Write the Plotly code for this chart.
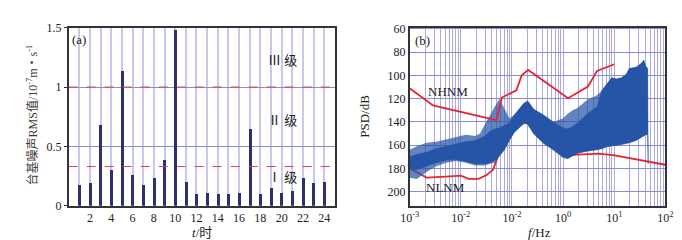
import plotly.graph_objects as go

# ---------------- data: panel (a) ----------------
hours = list(range(1, 25))
rms = [0.18, 0.19, 0.68, 0.30, 1.135, 0.26, 0.18, 0.24, 0.39, 1.48, 0.20, 0.105,
       0.11, 0.105, 0.105, 0.11, 0.65, 0.098, 0.15, 0.11, 0.13, 0.235, 0.19, 0.205]
level_limits = [1.0, 0.33]
level_labels = ["Ⅲ 级", "Ⅱ 级", "Ⅰ 级"]
level_label_y = [1.22, 0.72, 0.24]
a_xticks = list(range(2, 25, 2))

# ---------------- data: panel (b) ----------------
psd_f = [0.001, 0.00138, 0.00214, 0.00331, 0.00513, 0.00796, 0.0125, 0.0191, 0.0238,
         0.0297, 0.037, 0.046, 0.0573, 0.0713, 0.0889, 0.111, 0.138, 0.171, 0.204,
         0.266, 0.412, 0.64, 0.991, 1.23, 1.54, 1.91, 2.97, 4.6, 5.72, 7.13, 8.89,
         11.1, 13.8, 17.2, 19.6, 26.6, 33.1, 37.8, 41.2, 45.0, 46.0]
psd_upper = [164, 161, 158, 157, 155, 153, 151, 152, 150, 142, 134, 127, 120, 128,
             137, 134, 129, 124, 122, 129, 134, 140, 137, 133, 130, 128, 121, 117,
             113, 107, 102, 103, 102, 99, 94, 93, 90, 87, 92, 94, 176]
psd_lower = [188, 189, 183, 178, 175, 173.5, 175, 177.5, 177.5, 177.5, 176, 175,
             169.5, 164, 156, 149, 145, 141, 142.5, 150.5, 158.7, 164, 171, 172,
             169.5, 167, 165.4, 164, 163, 161.4, 160.5, 160, 159.5, 158.7, 158, 156,
             153.3, 152, 151, 150.6, 176]
core_upper = [170, 168, 166, 163, 161, 159, 157, 156, 154, 152, 148, 146, 145, 143,
              141, 134, 129, 124, 122, 129, 134, 140, 145, 146, 144, 141, 133, 127,
              113, 107, 102, 103, 102, 99, 94, 93, 90, 87, 92, 94, 176]
core_lower = [181, 181, 178, 175, 173, 172, 174, 176, 176, 176, 175, 173, 169, 164,
              156, 149, 145, 141, 142, 150, 158, 164, 170, 171, 169, 167, 165, 164,
              163, 161.4, 160.5, 160, 159.5, 158.7, 158, 156, 153.3, 152, 151, 150.6, 176]

nhnm_f = [0.001, 0.00286, 0.0495, 0.0634, 0.122, 0.155, 0.207, 1.25, 3.06, 4.6, 10.0]
nhnm_db = [111, 125.8, 138.5, 119, 112.8, 99.9, 95.3, 119.6, 109.6, 96.1, 90.4]

nlnm_f = [0.001, 0.00214, 0.00513, 0.00794, 0.01, 0.0143, 0.0221, 0.032, 0.0427,
          0.0495, 0.06, 0.1, 0.2, 0.3, 0.6, 1.0, 1.5, 1.92, 4.95, 10.2, 21.4, 44.5, 100]
nlnm_db = [179.8, 187.8, 187, 186.2, 186.2, 188.9, 188.9, 185.7, 181, 173.5, 163,
           148, 139, 146, 160, 166, 168.5, 168.1, 167.3, 168.7, 171.4, 174.1, 176.8]

b_xtickvals = [1e-3, 1e-2, 1e-1, 1e0, 1e1, 1e2]
b_xticktext = ["10<sup>-3</sup>", "10<sup>-2</sup>", "10<sup>-2</sup>",
               "10<sup>0</sup>", "10<sup>1</sup>", "10<sup>2</sup>"]
b_yticks = [60, 80, 100, 120, 140, 160, 180, 200]

# ---------------- styling ----------------
W, H = 682, 240
SERIF = "Liberation Serif, Times New Roman, Noto Sans CJK SC, serif"
TXT = "#222222"
BLUE = "rgb(38,84,166)"
RED = "#e8252d"

fig = go.Figure()

# panel (a)
fig.add_trace(go.Bar(x=hours, y=rms, width=0.28, marker=dict(color="#2c3070", line=dict(width=0)),
                     xaxis="x", yaxis="y", showlegend=False))
for lv in level_limits:
    fig.add_trace(go.Scatter(x=[0, 25], y=[lv, lv], mode="lines",
                             line=dict(color="#e0404a", width=1, dash="dash"),
                             xaxis="x", yaxis="y", showlegend=False))

# panel (b)
fig.add_trace(go.Scatter(x=nlnm_f, y=nlnm_db, mode="lines", line=dict(color=RED, width=1.8),
                         xaxis="x2", yaxis="y2", showlegend=False))
fig.add_trace(go.Scatter(x=psd_f + psd_f[::-1], y=psd_upper + psd_lower[::-1],
                         mode="lines", fill="toself", fillcolor="rgba(38,84,166,0.72)",
                         line=dict(width=0, color=BLUE), xaxis="x2", yaxis="y2", showlegend=False))
fig.add_trace(go.Scatter(x=psd_f + psd_f[::-1], y=core_upper + core_lower[::-1],
                         mode="lines", fill="toself", fillcolor=BLUE,
                         line=dict(width=0.5, color=BLUE), xaxis="x2", yaxis="y2", showlegend=False))
fig.add_trace(go.Scatter(x=nhnm_f, y=nhnm_db, mode="lines", line=dict(color=RED, width=1.8),
                         xaxis="x2", yaxis="y2", showlegend=False))

axis_common = dict(showline=True, mirror=True, linecolor="#333333", linewidth=1.5,
                   zeroline=False, tickfont=dict(family=SERIF, size=12, color=TXT))

fig.update_layout(
    width=W, height=H, margin=dict(l=0, r=0, t=0, b=0),
    paper_bgcolor="white", plot_bgcolor="white", bargap=0,
    xaxis=dict(domain=[53 / W, 326 / W], range=[0, 25], tickvals=a_xticks,
               showgrid=True, gridcolor="#c9c9ec", gridwidth=2, ticks="",
               minor=dict(tick0=0, dtick=1, showgrid=True, gridcolor="#c9c9ec", gridwidth=2),
               anchor="y", **axis_common),
    yaxis=dict(domain=[1 - 202.5 / H, 1 - 13.5 / H], range=[0, 1.5], dtick=0.5,
               showgrid=True, gridcolor="#8a8ad8", gridwidth=1, ticks="outside", ticklen=3,
               tickcolor="#333333", anchor="x", **axis_common),
    xaxis2=dict(domain=[402.7 / W, 665 / W], type="log", range=[-3, 2],
                tickvals=b_xtickvals, ticktext=b_xticktext, ticks="",
                showgrid=True, gridcolor="#a9a9e6", gridwidth=1,
                minor=dict(dtick="D1", showgrid=True, gridcolor="#a9a9e6", gridwidth=1, ticks=""),
                anchor="y2", **axis_common),
    yaxis2=dict(domain=[1 - 202.5 / H, 1 - 13.5 / H], range=[212, 59], tickvals=b_yticks,
                showgrid=True, gridcolor="#8a8ad8", gridwidth=1, ticks="",
                anchor="x2", **axis_common),
)


def note(x, y, text, xref="paper", yref="paper", angle=0, xanchor="center", color=TXT, size=13):
    return dict(x=x, y=y, xref=xref, yref=yref, text=text, showarrow=False, textangle=angle,
                xanchor=xanchor, yanchor="middle", font=dict(family=SERIF, size=size, color=color))


ann = [note(0.15, 1.40, "(a)", "x", "y", xanchor="left")]
for lab, yy in zip(level_labels, level_label_y):
    ann.append(note(20.1, yy, lab, "x", "y"))
ann.append(note(16 / W, 1 - 106 / H, "台基噪声RMS值/10<sup>-7</sup>m・s<sup>-1</sup>",
                angle=-90, color="#3a3a3a", size=12))
ann.append(note(190 / W, 1 - 231 / H, "<i>t</i>/时"))
ann.append(note(406 / W, 1 - 27 / H, "(b)", xanchor="left"))
ann.append(note(357 / W, 1 - 108 / H, "PSD/dB", angle=-90))
ann.append(note(536 / W, 1 - 231 / H, "<i>f</i>/Hz"))
ann.append(note(442 / W, 1 - 81 / H, "NHNM"))
ann.append(note(439 / W, 1 - 183 / H, "NLNM"))
fig.update_layout(annotations=ann)

fig.write_html("out.html")
